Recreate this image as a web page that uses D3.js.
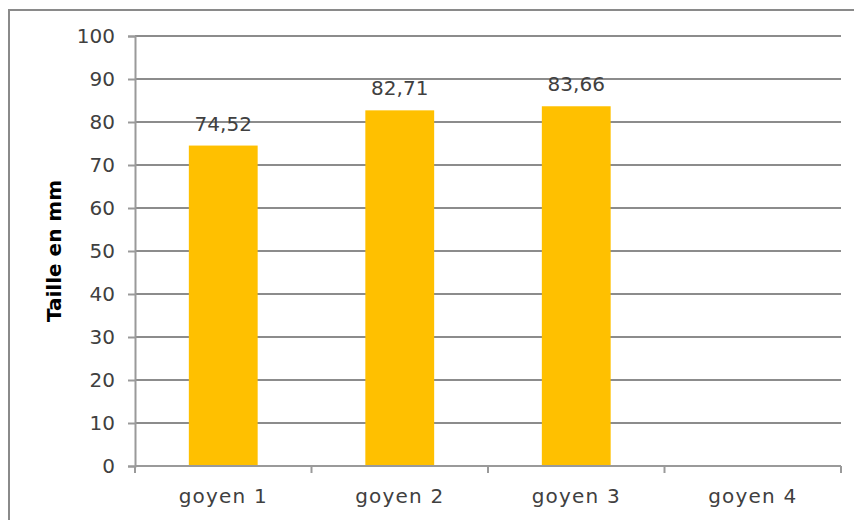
<!DOCTYPE html>
<html>
<head>
<meta charset="utf-8">
<script src="https://cdn.jsdelivr.net/npm/d3@7"></script>
<style>
  html, body { margin: 0; padding: 0; background: #fff; }
  svg { display: block; }
</style>
</head>
<body>
<svg id="chart" width="854" height="520"></svg>
<script>
// Mean size per group (mm); the last group has no measurement
const categories = ["goyen 1", "goyen 2", "goyen 3", "goyen 4"];
const values = [74.52, 82.71, 83.66, null];
const yTicks = [0, 10, 20, 30, 40, 50, 60, 70, 80, 90, 100];
const yTitle = "Taille en mm";

const svg = d3.select("#chart");
const W = 854, H = 520;
const margin = { left: 135, right: 13, top: 36, bottom: 54 };
const font = "'DejaVu Sans', sans-serif";
const gridColor = "#8c8c8c";
const axisColor = "#9a9a9a";
const textColor = "#404040";

// Outer frame
svg.append("rect")
  .attr("x", 9).attr("y", 10)
  .attr("width", W + 10).attr("height", H + 10)
  .attr("fill", "none").attr("stroke", "#8a8a8a").attr("stroke-width", 2);

const x = d3.scaleBand()
  .domain(categories)
  .range([margin.left, W - margin.right])
  .paddingInner(0.61).paddingOuter(0.305);

const xBand = d3.scaleBand()
  .domain(categories)
  .range([margin.left, W - margin.right]);

const y = d3.scaleLinear()
  .domain([0, 100])
  .range([H - margin.bottom, margin.top]);

// Horizontal gridlines
svg.append("g")
  .selectAll("line")
  .data(yTicks.filter(t => t > 0))
  .join("line")
  .attr("x1", margin.left).attr("x2", W - margin.right)
  .attr("y1", d => y(d)).attr("y2", d => y(d))
  .attr("stroke", gridColor).attr("stroke-width", 2);

const rows = categories.map((c, i) => ({ c, v: values[i] })).filter(d => d.v != null);

// Bars
svg.append("g")
  .selectAll("rect")
  .data(rows)
  .join("rect")
  .attr("x", d => x(d.c))
  .attr("width", x.bandwidth())
  .attr("y", d => y(d.v))
  .attr("height", d => y(0) - y(d.v))
  .attr("fill", "#FFC000");

// Value labels
const fmt = v => d3.format(".2f")(v).replace(".", ",");
svg.append("g")
  .selectAll("text")
  .data(rows)
  .join("text")
  .attr("x", d => x(d.c) + x.bandwidth() / 2)
  .attr("y", d => y(d.v) - 15)
  .attr("text-anchor", "middle")
  .attr("font-family", font).attr("font-size", 20)
  .attr("fill", textColor)
  .text(d => fmt(d.v));

// Y axis
const yAxis = svg.append("g")
  .attr("transform", `translate(${margin.left},0)`)
  .call(d3.axisLeft(y).tickValues(yTicks).tickSize(7).tickPadding(13));
yAxis.select(".domain").attr("stroke", axisColor).attr("stroke-width", 2);
yAxis.selectAll(".tick line").attr("stroke", axisColor).attr("stroke-width", 2);
yAxis.selectAll(".tick text")
  .attr("font-family", font).attr("font-size", 20).attr("fill", textColor);

// X axis: ticks sit on band boundaries
const xAxisG = svg.append("g")
  .attr("transform", `translate(0,${y(0)})`);
xAxisG.append("line")
  .attr("x1", margin.left).attr("x2", W - margin.right)
  .attr("stroke", axisColor).attr("stroke-width", 2);
const bounds = categories.map(c => xBand(c)).concat([W - margin.right]);
xAxisG.selectAll("line.tk")
  .data(bounds)
  .join("line")
  .attr("class", "tk")
  .attr("x1", d => d).attr("x2", d => d)
  .attr("y1", 0).attr("y2", 7)
  .attr("stroke", axisColor).attr("stroke-width", 2);
xAxisG.selectAll("text")
  .data(categories)
  .join("text")
  .attr("x", d => xBand(d) + xBand.bandwidth() / 2)
  .attr("y", 37)
  .attr("text-anchor", "middle")
  .attr("font-family", font).attr("font-size", 20)
  .attr("letter-spacing", 1.2)
  .attr("fill", textColor)
  .text(d => d);

// Y axis title
svg.append("text")
  .attr("transform", `translate(61,251) rotate(-90)`)
  .attr("text-anchor", "middle")
  .attr("font-family", font).attr("font-size", 20).attr("font-weight", "bold")
  .attr("fill", "#000")
  .text(yTitle);
</script>
</body>
</html>
